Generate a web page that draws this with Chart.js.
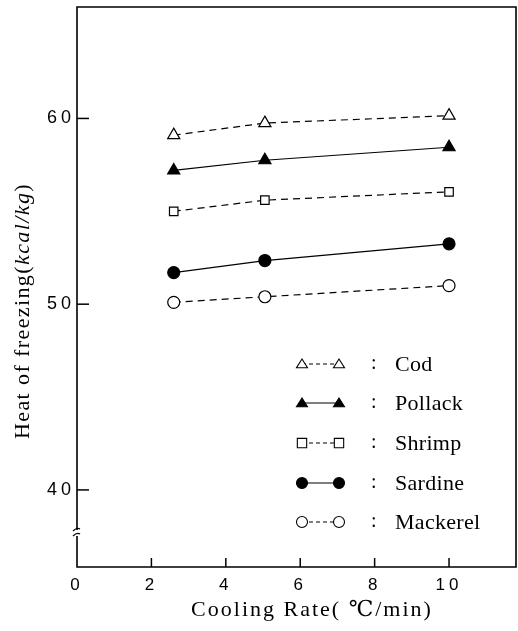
<!DOCTYPE html>
<html>
<head>
<meta charset="utf-8">
<script src="https://cdn.jsdelivr.net/npm/chart.js@4.4.1/dist/chart.umd.min.js"></script>
<style>
  html, body { margin: 0; padding: 0; background: #fff; }
  #wrap { width: 518px; height: 631px; }
</style>
</head>
<body>
<div id="wrap"><canvas id="freezeChart" width="518" height="631"></canvas></div>
<script>
  // cooling rate (°C/min) and heat of freezing (kcal/kg)
  const coolingRate = [2.6, 5.05, 10.0];
  const cod = [59.1, 59.75, 60.15];
  const pollack = [57.2, 57.75, 58.45];
  const shrimp = [55.0, 55.6, 56.05];
  const sardine = [51.7, 52.35, 53.25];
  const mackerel = [50.1, 50.4, 51.0];

  const xTicks = [0, 2, 4, 6, 8, 10];
  const yTicks = [40, 50, 60];

  const serif = '"Liberation Serif", "DejaVu Serif", serif';
  const sans = '"Liberation Sans", "DejaVu Sans", sans-serif';

  const species = [
    { label: 'Cod', data: cod, style: 'triangle', filled: false, dashed: true },
    { label: 'Pollack', data: pollack, style: 'triangle', filled: true, dashed: false },
    { label: 'Shrimp', data: shrimp, style: 'rect', filled: false, dashed: true },
    { label: 'Sardine', data: sardine, style: 'circle', filled: true, dashed: false },
    { label: 'Mackerel', data: mackerel, style: 'circle', filled: false, dashed: true }
  ];

  const datasets = species.map(s => ({
    label: s.label,
    data: s.data.map((v, i) => ({ x: coolingRate[i], y: v })),
    borderColor: '#000',
    borderWidth: 1.2,
    borderDash: s.dashed ? [7, 5] : [],
    pointStyle: s.style,
    pointRadius: s.style === 'triangle' ? 7 : 6,
    pointBorderWidth: 1.2,
    pointBorderColor: '#000',
    pointBackgroundColor: s.filled ? '#000' : '#fff',
    tension: 0
  }));

  function drawMarker(c, style, x, y, r, filled) {
    c.save();
    c.beginPath();
    if (style === 'circle') {
      c.arc(x, y, r, 0, Math.PI * 2);
    } else if (style === 'rect') {
      c.rect(x - r * 0.85, y - r * 0.85, r * 1.7, r * 1.7);
    } else {
      const h = r * 1.5;
      c.moveTo(x, y - h * 0.6);
      c.lineTo(x + r, y + h * 0.45);
      c.lineTo(x - r, y + h * 0.45);
      c.closePath();
    }
    c.fillStyle = filled ? '#000' : '#fff';
    c.fill();
    c.lineWidth = 1.1;
    c.strokeStyle = '#000';
    c.stroke();
    c.restore();
  }

  function spacedText(c, text, x, y, font, spacing) {
    c.font = font;
    c.letterSpacing = spacing + 'px';
    c.fillText(text, x, y);
    const w = c.measureText(text).width;
    c.letterSpacing = '0px';
    return w;
  }

  const figurePlugin = {
    id: 'figure',
    beforeDraw(chart) {
      // spaced-out digits on the tick labels, like the printed figure
      chart.ctx.letterSpacing = '4px';
    },
    beforeDatasetsDraw(chart) {
      chart.ctx.letterSpacing = '0px';
    },
    afterDraw(chart) {
      const c = chart.ctx;
      const a = chart.chartArea;
      const xs = chart.scales.x, ys = chart.scales.y;
      c.letterSpacing = '0px';
      c.save();
      c.strokeStyle = '#000';
      // frame
      c.lineWidth = 1.6;
      c.beginPath();
      c.moveTo(a.left, a.top);
      c.lineTo(a.right, a.top);
      c.lineTo(a.right, a.bottom);
      c.lineTo(a.left, a.bottom);
      c.closePath();
      c.stroke();
      // inward ticks
      c.lineWidth = 1.5;
      yTicks.forEach(v => {
        const py = ys.getPixelForValue(v);
        c.beginPath(); c.moveTo(a.left, py); c.lineTo(a.left + 12, py); c.stroke();
      });
      xTicks.slice(1).forEach(v => {
        const px = xs.getPixelForValue(v);
        c.beginPath(); c.moveTo(px, a.bottom); c.lineTo(px, a.bottom - 9); c.stroke();
      });
      // axis break on y axis
      const by = 533;
      c.fillStyle = '#fff';
      c.fillRect(a.left - 4, by - 3, 8, 6);
      c.lineWidth = 1.2;
      c.beginPath();
      c.moveTo(a.left - 4, by - 2); c.quadraticCurveTo(a.left, by - 6, a.left + 3, by - 4);
      c.moveTo(a.left - 4, by + 3); c.quadraticCurveTo(a.left, by - 1, a.left + 3, by + 1);
      c.stroke();

      // x axis title
      c.fillStyle = '#000';
      c.textBaseline = 'middle';
      c.textAlign = 'left';
      c.font = '22px ' + serif;
      c.letterSpacing = '2px';
      const xt = 'Cooling Rate( ℃/min)';
      const xw = c.measureText(xt).width;
      c.fillText(xt, 312 - xw / 2, 610);
      c.letterSpacing = '0px';

      // y axis title with italic unit
      c.translate(23, 311);
      c.rotate(-Math.PI / 2);
      const parts = [
        ['Heat of freezing(', '22px ' + serif],
        ['kcal/kg', 'italic 22px ' + serif],
        [')', '22px ' + serif]
      ];
      let total = 0;
      parts.forEach(p => {
        c.font = p[1]; c.letterSpacing = '1.4px';
        total += c.measureText(p[0]).width;
      });
      let cx = -total / 2;
      parts.forEach(p => { cx += spacedText(c, p[0], cx, 0, p[1], 1.4); });
      c.restore();

      // legend in lower right of plot
      c.save();
      const rows = [364, 403, 443, 483, 522];
      species.forEach((s, i) => {
        const y = rows[i];
        c.strokeStyle = '#000';
        c.lineWidth = 1.2;
        c.setLineDash(s.dashed ? [4, 3] : []);
        c.beginPath(); c.moveTo(302, y); c.lineTo(339, y); c.stroke();
        c.setLineDash([]);
        drawMarker(c, s.style, 302, y, 5.5, s.filled);
        drawMarker(c, s.style, 339, y, 5.5, s.filled);
        c.fillStyle = '#000';
        c.textBaseline = 'middle';
        c.textAlign = 'left';
        c.font = '20px ' + serif;
        c.fillText(':', 371, y);
        spacedText(c, s.label, 395, y + 1, '22px ' + serif, 0.3);
      });
      c.restore();
    }
  };

  const ctx = document.getElementById('freezeChart');

  new Chart(ctx, {
    type: 'line',
    data: { datasets: datasets },
    options: {
      responsive: false,
      animation: false,
      layout: { autoPadding: false, padding: { top: 7, right: 2, left: 0, bottom: 0 } },
      plugins: {
        legend: { display: false },
        tooltip: { enabled: false }
      },
      scales: {
        x: {
          type: 'linear',
          min: 0,
          max: 11.8,
          afterBuildTicks: s => { s.ticks = xTicks.map(v => ({ value: v })); },
          afterFit: s => { s.height = 64; s.paddingLeft = 0; s.paddingRight = 0; },
          grid: { display: false, drawTicks: false, tickLength: 0 },
          border: { display: false },
          ticks: {
            padding: 8,
            color: '#000',
            font: { family: sans, size: 17 }
          }
        },
        y: {
          min: 35.85,
          max: 66,
          afterBuildTicks: s => { s.ticks = yTicks.map(v => ({ value: v })); },
          afterFit: s => { s.width = 77; s.paddingTop = 0; s.paddingBottom = 0; },
          grid: { display: false, drawTicks: false, tickLength: 0 },
          border: { display: false },
          ticks: {
            padding: 2,
            color: '#000',
            font: { family: sans, size: 18 }
          }
        }
      }
    },
    plugins: [figurePlugin]
  });
</script>
</body>
</html>
